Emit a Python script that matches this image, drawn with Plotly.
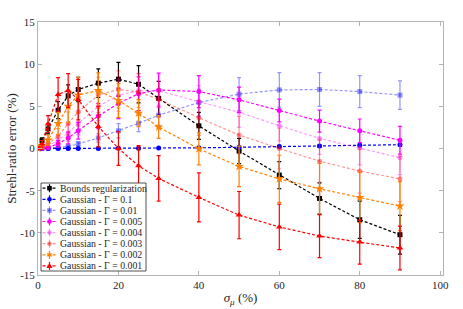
import plotly.graph_objects as go
import math

# ---------------- data ----------------
sigma_mu = [0, 1, 2.5, 5, 7.5, 10, 15, 20, 25, 30, 40, 50, 60, 70, 80, 90]

bounds_val = [0, 0.95, 2.33, 4.55, 6.25, 7.0, 7.75, 8.22, 7.62, 5.95, 2.69, -0.3, -3.15, -5.92, -8.45, -10.22]
bounds_err = [0.1, 0.3, 0.6, 1.0, 1.3, 1.45, 1.7, 2.0, 2.2, 2.0, 1.6, 1.5, 1.6, 1.85, 2.2, 2.3]

g01_val = [0, 0, 0, 0, 0, 0, 0, 0.02, 0.03, 0.05, 0.08, 0.15, 0.25, 0.3, 0.38, 0.45]
g01_err = [0, 0.01, 0.01, 0.02, 0.02, 0.03, 0.04, 0.05, 0.06, 0.07, 0.08, 0.1, 0.12, 0.13, 0.15, 0.16]

g001_val = [0, 0.01, 0.03, 0.1, 0.25, 0.55, 1.25, 2.1, 3.0, 3.95, 5.45, 6.45, 6.95, 7.0, 6.75, 6.33]
g001_err = [0, 0.02, 0.05, 0.1, 0.15, 0.25, 0.5, 0.85, 1.0, 1.2, 1.6, 1.95, 2.05, 2.0, 1.9, 1.7]

g0005_val = [0, 0.02, 0.12, 0.55, 1.25, 2.1, 3.85, 5.35, 6.5, 6.95, 6.75, 5.77, 4.5, 3.25, 2.1, 0.98]
g0005_err = [0, 0.05, 0.15, 0.4, 0.7, 1.0, 1.5, 1.8, 2.0, 2.0, 1.9, 1.5, 1.35, 1.3, 1.4, 1.65]

g0004_val = [0, 0.05, 0.3, 0.95, 1.85, 2.95, 5.0, 6.3, 6.85, 6.85, 5.55, 4.3, 2.7, 1.2, 0.05, -1.1]
g0004_err = [0, 0.1, 0.3, 0.6, 1.0, 1.3, 1.7, 1.9, 2.0, 2.0, 1.9, 1.8, 1.8, 1.9, 2.0, 2.0]

g0003_val = [0, 0.1, 0.6, 1.45, 2.95, 4.35, 6.35, 7.0, 6.7, 5.85, 3.65, 1.6, 0.0, -1.5, -2.68, -3.6]
g0003_err = [0, 0.2, 0.5, 0.9, 1.4, 1.7, 2.1, 2.2, 2.2, 2.1, 2.1, 2.2, 2.4, 2.5, 2.6, 2.7]

g0002_val = [0, 0.3, 1.0, 2.95, 5.0, 6.35, 6.87, 5.7, 4.19, 2.54, -0.04, -2.13, -3.6, -4.78, -5.8, -6.83]
g0002_err = [0, 0.3, 0.6, 1.3, 1.9, 2.1, 2.1, 2.0, 1.6, 1.35, 1.9, 2.4, 2.8, 3.0, 3.0, 2.9]

g0001_val = [0, 0.55, 2.9, 6.4, 6.88, 5.8, 2.6, 0.0, -2.05, -3.55, -5.8, -7.9, -9.3, -10.38, -11.1, -11.8]
g0001_err = [0, 0.4, 1.0, 2.0, 2.0, 2.4, 2.4, 2.0, 2.4, 2.7, 2.9, 2.8, 2.7, 2.55, 2.6, 2.6]

labels = [
    "Bounds regularization",
    "Gaussian - Γ = 0.1",
    "Gaussian - Γ = 0.01",
    "Gaussian - Γ = 0.005",
    "Gaussian - Γ = 0.004",
    "Gaussian - Γ = 0.003",
    "Gaussian - Γ = 0.002",
    "Gaussian - Γ = 0.001",
]
values = [bounds_val, g01_val, g001_val, g0005_val, g0004_val, g0003_val, g0002_val, g0001_val]
errors = [bounds_err, g01_err, g001_err, g0005_err, g0004_err, g0003_err, g0002_err, g0001_err]

x_ticks = [0, 20, 40, 60, 80, 100]
y_ticks = [-15, -10, -5, 0, 5, 10, 15]

# ---------------- style ----------------
colors = [
    "#000000",
    "#0000ff",
    "rgba(0,0,255,0.42)",
    "#ff00ff",
    "rgba(255,0,255,0.40)",
    "rgba(255,0,0,0.42)",
    "#ff8000",
    "#ff0000",
]
symbols = ["square", "circle", "square", "circle", "circle", "circle", "star", "triangle-up"]
msizes = [5, 5, 5, 5, 5, 5, 7, 6]

FONT = "Liberation Serif"
W, H = 463, 309
ML, MR, MT, MB = 38, 20, 22, 34
PW, PH = W - ML - MR, H - MT - MB

fig = go.Figure()
for lab, yv, ev, c, s, ms in zip(labels, values, errors, colors, symbols, msizes):
    fig.add_trace(go.Scatter(
        x=sigma_mu, y=yv, name=lab, mode="lines+markers",
        line=dict(color=c, width=1.2, dash="3px,2px"),
        marker=dict(symbol=s, size=ms, color=c, line=dict(width=0)),
        error_y=dict(type="data", array=ev, visible=True, color=c, thickness=1.2, width=2),
        showlegend=False,
    ))

# ---------------- manual compact legend ----------------
def px2paper(px, py):
    return (px - ML) / PW, (H - MB - py) / PH

shapes = []
annotations = []
lx0, lx1, ly0, ly1 = 41, 146, 183, 271
a0 = px2paper(lx0, ly0)
a1 = px2paper(lx1, ly1)
shapes.append(dict(type="rect", xref="paper", yref="paper", x0=a0[0], y0=a1[1], x1=a1[0], y1=a0[1],
                   line=dict(color="#262626", width=0.8), fillcolor="white", layer="above"))
step = 11.1
for i, (lab, c, s) in enumerate(zip(labels, colors, symbols)):
    cy = 188.2 + step * i
    p0 = px2paper(42.5, cy)
    p1 = px2paper(57, cy)
    shapes.append(dict(type="line", xref="paper", yref="paper", x0=p0[0], y0=p0[1], x1=p1[0], y1=p1[1],
                       line=dict(color=c, width=1.2, dash="3px,2px"), layer="above"))
    e0 = px2paper(49.5, cy - 4)
    e1 = px2paper(49.5, cy + 4)
    shapes.append(dict(type="line", xref="paper", yref="paper", x0=e0[0], y0=e0[1], x1=e1[0], y1=e1[1],
                       line=dict(color=c, width=1.2), layer="above"))
    r = 2.3
    if s in ("square",):
        q0 = px2paper(49.5 - r, cy + r)
        q1 = px2paper(49.5 + r, cy - r)
        shapes.append(dict(type="rect", xref="paper", yref="paper", x0=q0[0], y0=q0[1], x1=q1[0], y1=q1[1],
                           fillcolor=c, line=dict(width=0), layer="above"))
    elif s == "circle":
        q0 = px2paper(49.5 - r, cy + r)
        q1 = px2paper(49.5 + r, cy - r)
        shapes.append(dict(type="circle", xref="paper", yref="paper", x0=q0[0], y0=q0[1], x1=q1[0], y1=q1[1],
                           fillcolor=c, line=dict(width=0), layer="above"))
    else:
        if s == "star":
            pts = []
            for k in range(12):
                ang = math.pi / 2 + k * math.pi / 6
                rr = 3.5 if k % 2 == 0 else 1.6
                pts.append(px2paper(49.5 + rr * math.cos(ang), cy - rr * math.sin(ang)))
        else:
            pts = [px2paper(49.5, cy - 3.2), px2paper(52.5, cy + 2.2), px2paper(46.5, cy + 2.2)]
        path = "M " + " L ".join(f"{p[0]:.5f},{p[1]:.5f}" for p in pts) + " Z"
        shapes.append(dict(type="path", xref="paper", yref="paper", path=path,
                           fillcolor=c, line=dict(width=0), layer="above"))
    t = px2paper(57.5, cy)
    annotations.append(dict(x=t[0], y=t[1], xref="paper", yref="paper", text=lab, showarrow=False,
                            xanchor="left", yanchor="middle",
                            font=dict(family=FONT, size=9.8, color="#262626")))

axis_common = dict(
    showgrid=False, zeroline=False, showline=True, linecolor="#b3b3b3", linewidth=1,
    mirror="allticks", ticks="inside", ticklen=4, tickcolor="#b3b3b3", automargin=False,
    tickfont=dict(family=FONT, size=11, color="#262626"),
)

fig.update_layout(
    width=W, height=H,
    margin=dict(l=ML, r=MR, t=MT, b=MB),
    paper_bgcolor="white", plot_bgcolor="white",
    xaxis=dict(range=[0, 100.7], tickvals=x_ticks, ticktext=[str(v) for v in x_ticks],
               title=dict(text="<i>σ</i><sub><i>μ</i></sub> (%)", font=dict(family=FONT, size=13, color="#262626"), standoff=2),
               **axis_common),
    yaxis=dict(range=[-15, 15], tickvals=y_ticks, ticktext=[str(v) for v in y_ticks],
               title=dict(text="Strehl-ratio error (%)", font=dict(family=FONT, size=13, color="#262626"), standoff=0),
               **axis_common),
    shapes=shapes,
    annotations=annotations,
    showlegend=False,
)

fig.write_html("out.html", config={"displayModeBar": False},
               post_script="document.body.style.margin='0';")
